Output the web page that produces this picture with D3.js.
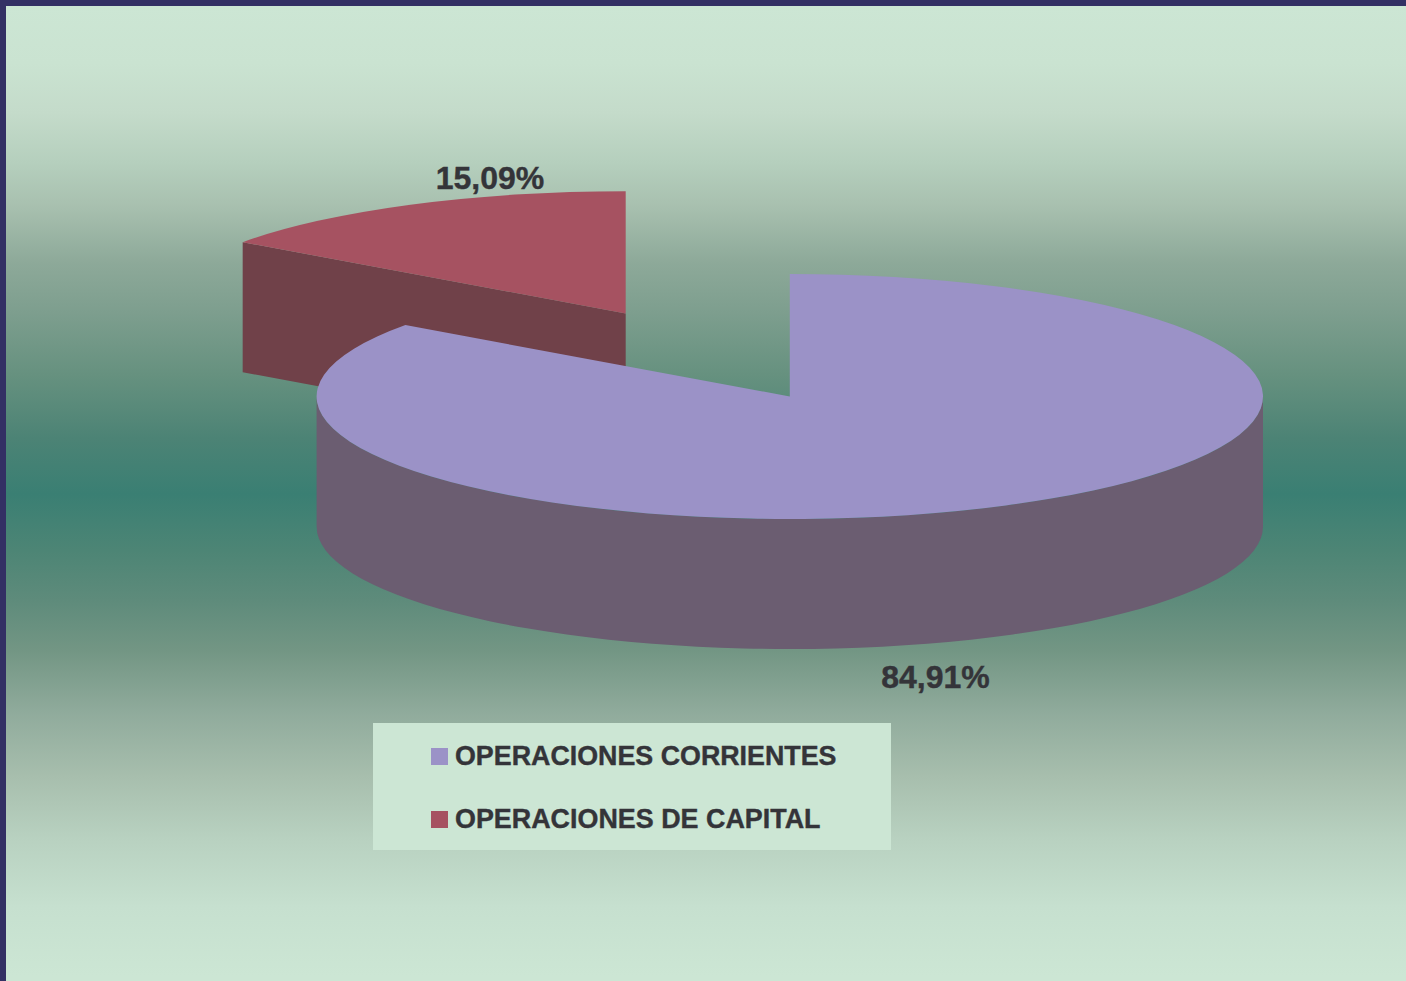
<!DOCTYPE html>
<html><head><meta charset="utf-8">
<style>html,body{margin:0;padding:0;background:#CCE6D4}svg{display:block}</style>
<script src="https://cdn.jsdelivr.net/npm/d3@7"></script>
</head><body><div id="chart"></div>
<script>
const categories = ["OPERACIONES CORRIENTES", "OPERACIONES DE CAPITAL"];
const values = [84.91, 15.09];
const labels = ["84,91%", "15,09%"];
const topColors = ["#9B92C7", "#A65261"];
const sideColors = ["#6B5D71", "#704149"];
const bgStops = [[6,"#CCE6D4"],[63,"#CAE3D1"],[113,"#C4DBCA"],[163,"#B5CFBD"],[206,"#A8C0AF"],[263,"#8DA999"],[313,"#7D9E8E"],[375,"#66917F"],[438,"#4C8375"],[494,"#3A7F73"],[551,"#4D8575"],[600,"#5E8B7B"],[651,"#739684"],[713,"#90AB9C"],[776,"#A7BEAD"],[838,"#B8D1C0"],[907,"#C6E0CF"],[976,"#CCE6D4"]];

const W = 1406, H = 981, depth = 130;
const svg = d3.select("#chart").append("svg").attr("width", W).attr("height", H);
const defs = svg.append("defs");
const grad = defs.append("linearGradient").attr("id","bg").attr("gradientUnits","userSpaceOnUse")
  .attr("x1",0).attr("x2",0).attr("y1",0).attr("y2",H);
grad.selectAll("stop").data(bgStops).join("stop")
  .attr("offset", d => d[0]/H).attr("stop-color", d => d[1]);
svg.append("rect").attr("width",W).attr("height",H).attr("fill","#333064");
svg.append("rect").attr("x",6).attr("y",6).attr("width",W-6).attr("height",H-6).attr("fill","url(#bg)");

const slices = d3.pie().sort(null).value(d => d)(values);
const centers = [[789.8,396.5],[625.7,313.5]];
const radii = [[473.2,122.5],[471.5,122.3]];

function drawSlice(i){
  const s = slices[i], [rx, ry] = radii[i];
  const pt = a => [rx*Math.sin(a), -ry*Math.cos(a)];
  const arc = d3.arc().innerRadius(0).outerRadius(rx);
  const g = svg.append("g").attr("transform",`translate(${centers[i]})`);
  if (i === 1) {
    const p = pt(s.startAngle);
    g.append("path").attr("fill",sideColors[i])
      .attr("d",`M0,0L${p[0]},${p[1]}L${p[0]},${p[1]+depth}L0,${depth}Z`);
  } else {
    const a = pt(Math.PI/2), b = pt(3*Math.PI/2);
    g.append("path").attr("fill",sideColors[i])
      .attr("d",`M${a[0]},${a[1]}L${a[0]},${a[1]+depth}A${rx},${ry} 0 0 1 ${b[0]},${b[1]+depth}L${b[0]},${b[1]}A${rx},${ry} 0 0 0 ${a[0]},${a[1]}Z`);
  }
  g.append("path").attr("transform",`scale(1,${ry/rx})`).attr("fill",topColors[i]).attr("d",arc(s));
}
drawSlice(1); drawSlice(0);

const font = '"Liberation Sans", Arial, sans-serif', ink = "#343439";
svg.selectAll("text.pct").data([[935.5,687.7,labels[0]],[490,188.7,labels[1]]]).join("text")
  .attr("class","pct").attr("x",d=>d[0]).attr("y",d=>d[1]).attr("text-anchor","middle")
  .attr("font-family",font).attr("font-weight","bold").attr("font-size",32)
  .attr("fill",ink).attr("stroke",ink).attr("stroke-width",0.4).text(d=>d[2]);

svg.append("rect").attr("x",373).attr("y",723).attr("width",518).attr("height",127).attr("fill","#CCE6D4");
const ly = d3.scalePoint().domain(categories).range([765,828]);
const legendWidths = [381.5, 365.5];
categories.forEach((c,i)=>{
  svg.append("rect").attr("x",431).attr("y",ly(c)-17).attr("width",17).attr("height",17).attr("fill",topColors[i]);
  svg.append("text").attr("x",455).attr("y",ly(c)).attr("font-family",font).attr("font-weight","bold")
    .attr("font-size",27.5).attr("textLength",legendWidths[i]).attr("lengthAdjust","spacingAndGlyphs")
    .attr("fill",ink).attr("stroke",ink).attr("stroke-width",0.4).text(c);
});
</script></body></html>
